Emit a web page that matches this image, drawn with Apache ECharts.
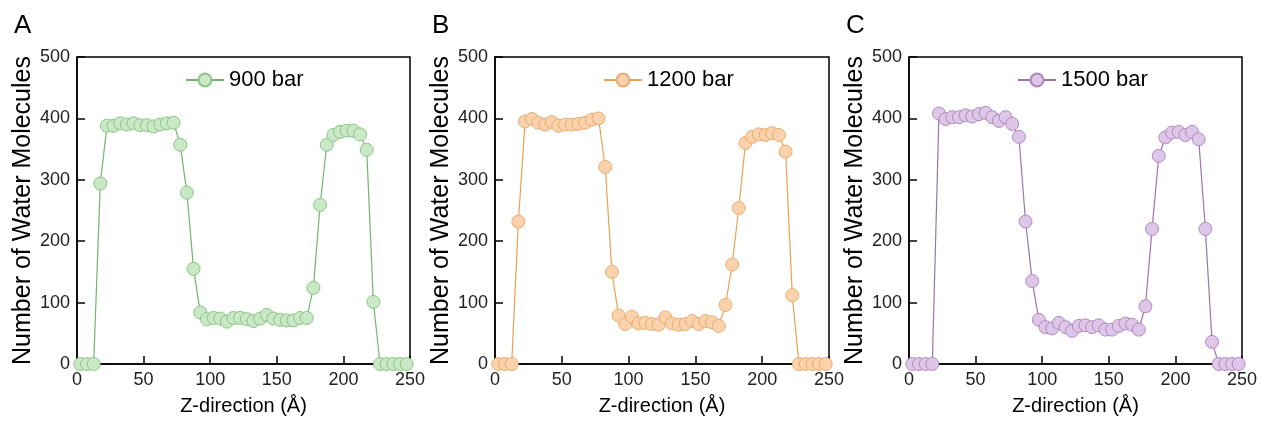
<!DOCTYPE html>
<html><head><meta charset="utf-8">
<script src="https://cdn.jsdelivr.net/npm/echarts@6/dist/echarts.min.js"></script>
<style>html,body{margin:0;padding:0;background:#fff}#c{width:1262px;height:421px}</style>
</head><body><div id="c"></div>
<script>
const zPos = [2.5,7.5,12.5,17.5,22.5,27.5,32.5,37.5,42.5,47.5,52.5,57.5,62.5,67.5,72.5,77.5,82.5,87.5,92.5,97.5,
  102.5,107.5,112.5,117.5,122.5,127.5,132.5,137.5,142.5,147.5,152.5,157.5,162.5,167.5,172.5,177.5,182.5,187.5,192.5,197.5,
  202.5,207.5,212.5,217.5,222.5,227.5,232.5,237.5,242.5,247.5];
const bar900 = [0,0,0,294,388,388,392,390,392,389,389,387,390,392,393,357,279,155,84,73,
  75,74,69,75,75,73,70,74,80,74,72,71,71,75,75,124,259,357,373,378,
  380,380,374,349,101,0,0,0,0,0];
const bar1200 = [0,0,0,232,395,399,393,390,394,388,390,390,391,393,398,400,321,150,79,65,
  77,66,67,65,64,76,66,64,65,70,65,70,68,62,96,162,254,360,370,374,
  373,376,373,346,112,0,0,0,0,0];
const bar1500 = [0,0,0,0,408,399,402,402,405,403,407,409,402,396,402,391,370,232,135,72,
  60,58,67,60,54,62,63,60,63,56,56,62,66,64,56,94,220,339,369,377,
  378,373,378,366,220,36,0,0,0,0];
const seriesNames = ['900 bar','1200 bar','1500 bar'];
const panelLabels = ['A','B','C'];
const xTicks = [0,50,100,150,200,250];
const yTicks = [0,100,200,300,400,500];

const allData = [bar900, bar1200, bar1500];
const lineColors = ['#74b36f','#e9a24f','#9b74ab'];
const fillColors = ['#c9e8c5','#fbd2ac','#dec6e8'];
const borderColors = ['#8cc387','#e6ad72','#ad8bbd'];
const grids = [{left:77,width:333},{left:495,width:334},{left:909,width:333}];
const font = 'Liberation Sans, Arial, sans-serif';

const option = {
  animation:false,
  textStyle:{fontFamily:font},
  title: panelLabels.map((t,i)=>({text:t, left:grids[i].left-68, top:8,
    textStyle:{fontSize:26,fontWeight:'normal',color:'#000',fontFamily:font}})),
  legend: seriesNames.map((n,i)=>({data:[n], left:grids[i].left+108, top:69, padding:0, itemWidth:38, itemHeight:16,
    itemGap:6, textStyle:{fontSize:22,color:'#000',fontFamily:font}})),
  grid: grids.map(g=>({left:g.left,width:g.width,top:57,height:308,show:true,borderColor:'#000',borderWidth:1.5,containLabel:false})),
  xAxis: grids.map((g,i)=>({type:'value',gridIndex:i,min:0,max:250,interval:50,
    name:'Z-direction (Å)',nameLocation:'middle',nameGap:32,
    nameTextStyle:{fontSize:20,color:'#000',fontFamily:font},
    axisLine:{show:true,lineStyle:{color:'#000',width:1.5}},
    axisTick:{show:true,inside:true,length:8,lineStyle:{color:'#000',width:1.5}},
    axisLabel:{fontSize:18,color:'#222',margin:7,fontFamily:font,
      formatter:v=>xTicks.includes(v)?String(v):''},
    splitLine:{show:false}})),
  yAxis: grids.map((g,i)=>({type:'value',gridIndex:i,min:0,max:500,interval:100,
    name:'Number of Water Molecules',nameLocation:'middle',nameGap:38,
    nameTextStyle:{fontSize:25,color:'#000',fontFamily:font},
    axisLine:{show:true,lineStyle:{color:'#000',width:1.5}},
    axisTick:{show:true,inside:true,length:8,lineStyle:{color:'#000',width:1.5}},
    axisLabel:{fontSize:18,color:'#222',margin:7,fontFamily:font,
      formatter:v=>yTicks.includes(v)?String(v):''},
    splitLine:{show:false}})),
  series: allData.map((d,i)=>({type:'line',name:seriesNames[i],xAxisIndex:i,yAxisIndex:i,
    data:zPos.map((z,k)=>[z,d[k]]),
    symbol:'circle',symbolSize:13,
    lineStyle:{color:lineColors[i],width:1.2},
    itemStyle:{color:fillColors[i],borderColor:borderColors[i],borderWidth:1},
    clip:false}))
};
echarts.init(document.getElementById('c'),null,{renderer:'canvas'}).setOption(option);
</script></body></html>
